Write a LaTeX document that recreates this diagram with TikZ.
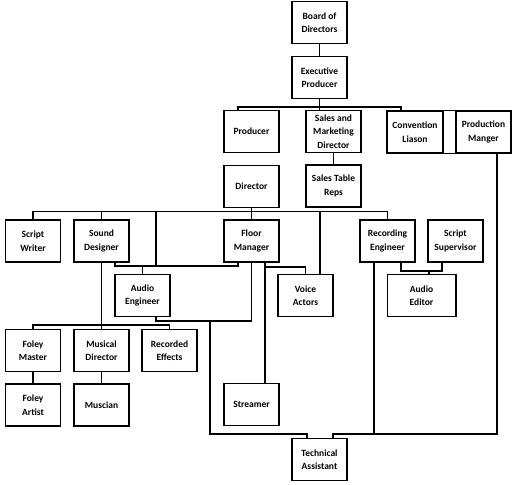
\documentclass[tikz,border=0pt]{standalone}
\usepackage{fontspec}
\setmainfont{Carlito}
\usetikzlibrary{backgrounds}
\begin{document}
\begin{tikzpicture}[x=1pt,y=-1pt,
  box/.style={draw=black, line width=1.5pt, fill=white, minimum width=55pt, minimum height=42pt,
    inner sep=1pt, align=center, font=\fontsize{9.5}{13.5}\selectfont\bfseries},
  conn/.style={draw=black, line width=1.25pt}]
\useasboundingbox (0,0) rectangle (512,485);
% boxes
\node[box] (bod) at (319.5,22.5) {Board of\\Directors};
\node[box] (exec) at (319.5,77.5) {Executive\\Producer};
\node[box] (prod) at (251.5,131.5) {Producer};
\node[box] (smd) at (333.5,131.5) {Sales and\\Marketing\\Director};
\node[box, minimum width=56pt] (conv) at (415,132) {Convention\\Liason};
\node[box] (pman) at (483.5,132) {Production\\Manger};
\node[box] (dir) at (251.5,186.5) {Director};
\node[box] (str) at (333.5,186) {Sales Table\\Reps};
\node[box] (sw) at (33,241) {Script\\Writer};
\node[box] (sd) at (101.5,241) {Sound\\Designer};
\node[box] (fm) at (251.5,241) {Floor\\Manager};
\node[box] (re) at (387.5,241) {Recording\\Engineer};
\node[box] (ss) at (455.5,241) {Script\\Supervisor};
\node[box] (ae) at (142.5,295.5) {Audio\\Engineer};
\node[box] (va) at (305.5,295.5) {Voice\\Actors};
\node[box, minimum width=68.5pt] (aed) at (421.5,295.5) {Audio\\Editor};
\node[box] (fmas) at (33,350.5) {Foley\\Master};
\node[box] (md) at (101.5,350.5) {Musical\\Director};
\node[box] (rec) at (169.5,350.5) {Recorded\\Effects};
\node[box] (fa) at (33,405) {Foley\\Artist};
\node[box] (mus) at (101.5,405) {Muscian};
\node[box] (stre) at (251.5,404.5) {Streamer};
\node[box] (ta) at (319.5,459.5) {Technical\\Assistant};
% connectors
\begin{pgfonlayer}{background}
\draw[conn] (bod.south) -- (exec.north);
\draw[conn] (exec.south) -- (exec.south |- smd.north);
\draw[conn] (238,0 |- prod.north) -- (238,107) -- (401,107) -- (401,0 |- conv.north);
\draw[conn] (conv.north east) -- (pman.north west);
\draw[conn] (conv.south east) -- (pman.south west);
\draw[conn] (smd.south) -- (str.north);
\draw[conn] (dir.south) -- (fm.north);
\draw[conn] (sw.north) -- (33,211.5) -- (387.5,211.5) -- (re.north);
\draw[conn] (sd.north) -- (101.5,211.5);
\draw[conn] (156,211.5) -- (156,266);
\draw[conn] (320,211.5) -- (320,0 |- va.north);
\draw[conn] (115,0 |- sd.south) -- (115,266) -- (238,266) -- (238,0 |- fm.south);
\draw[conn] (ae.north) -- (142.5,266);
\draw[conn] (sd.south) -- (101.5,325);
\draw[conn] (fmas.north) -- (33,325) -- (169.5,325) -- (rec.north);
\draw[conn] (md.north) -- (101.5,325);
\draw[conn] (fmas.south) -- (fa.north);
\draw[conn] (md.south) -- (mus.north);
\draw[conn] (156,0 |- ae.south) -- (156,321) -- (251.5,321) -- (251.5,0 |- fm.south);
\draw[conn] (210,321) -- (210,434) -- (307,434) -- (307,0 |- ta.north);
\draw[conn] (265,0 |- fm.south) -- (265,0 |- stre.north);
\draw[conn] (265,267) -- (305.5,267) -- (va.north);
\draw[conn] (401,0 |- re.south) -- (401,271) -- (442,271) -- (442,0 |- ss.south);
\draw[conn] (429,271) -- (429,0 |- aed.north);
\draw[conn] (374,0 |- re.south) -- (374,434);
\draw[conn] (497,0 |- pman.south) -- (497,434) -- (333,434) -- (333,0 |- ta.north);
\end{pgfonlayer}
\end{tikzpicture}
\end{document}
